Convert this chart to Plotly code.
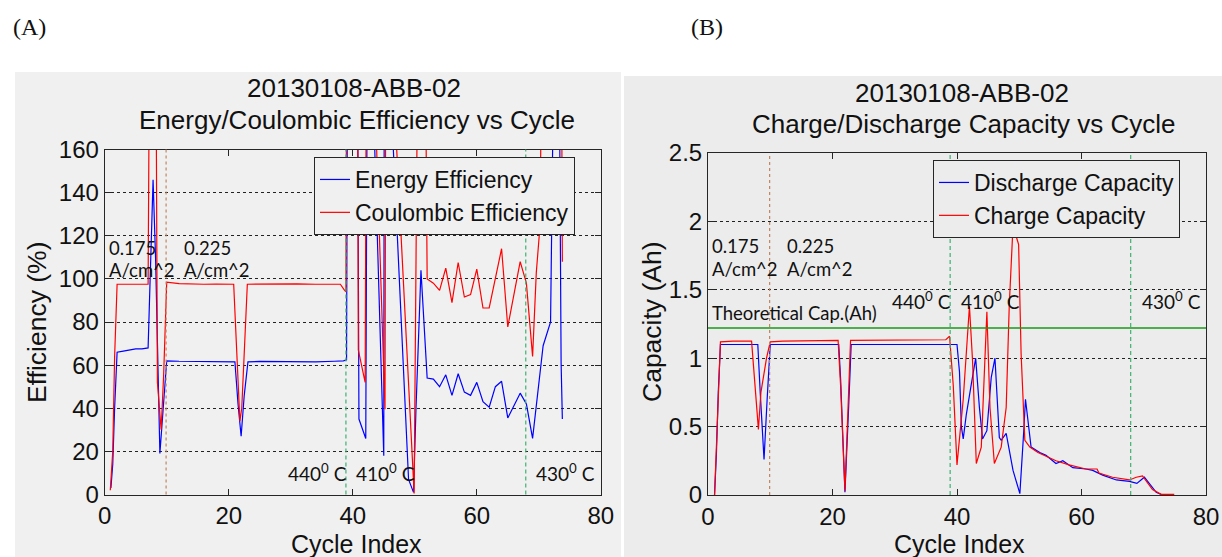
import plotly.graph_objects as go

W, H = 1222, 557

# ---------------- Panel A data (Efficiency, %) ----------------
ee_cycle = [1, 1.3, 1.6, 2, 3, 4, 5, 6, 7, 7.8, 8.2, 8.9, 9.4, 10, 12, 14, 16, 18, 20, 21,
            21.5, 22.0, 22.5, 23.1, 25, 28, 31, 34, 37, 38.5, 39, 39.2, 40.7, 41.0, 42.1, 42.4,
            43.5, 45.0, 45.1, 46.5, 49.0, 49.8, 50.2, 51, 52, 53, 54, 55, 56, 57, 58, 59, 60,
            61, 62, 63, 64, 65, 66, 67, 68, 69, 70.7, 71.9, 72.6, 73.2, 73.6, 73.8]
ee_value = [3, 14, 40, 66, 66.5, 67, 67.5, 67.5, 68, 146, 110, 19, 40, 62, 61.8, 61.8, 61.7, 61.7, 61.6, 61.5,
            42, 27, 46, 61.5, 61.7, 61.6, 61.6, 61.5, 61.8, 62, 62.5, 250, 250, 35, 26, 250,
            165, 18, 250, 165, 7, 1, 40, 104, 54, 53.5, 50, 55.5, 46, 56, 47.5, 46, 52,
            43, 40.5, 50, 52.5, 35.5, 41, 47, 42, 26, 69, 80, 250, 250, 61, 35]

ce_cycle = [0.9, 1.3, 1.6, 2, 3, 4, 5, 6, 7, 7.3, 8.2, 8.5, 9.1, 9.5, 10, 12, 14, 16, 18, 20, 20.8,
            21.8, 22.1, 23.0, 25, 28, 31, 34, 37, 38, 38.6, 38.9, 39.05, 40.75, 40.9, 42.0, 42.25,
            43.8, 45.2, 45.35, 47.0, 49.9, 50.6, 51.6, 52, 53, 54, 55, 56, 57, 58, 59, 60,
            61, 62, 63, 64, 65, 66, 67, 68, 69, 69.6, 70.2, 70.6, 73.6, 73.8]
ce_value = [2, 20, 64, 97.5, 97.5, 97.5, 97.6, 97.5, 97.5, 250, 250, 52, 30, 55, 98.5, 97.8, 97.6, 97.5, 97.6, 97.5, 97.5,
            34, 40, 97.5, 97.6, 97.5, 97.7, 97.5, 97.6, 97.5, 95, 94, 250, 250, 67, 52, 250,
            165, 39.5, 250, 165, 0.5, 250, 250, 100, 98, 94.7, 105, 89, 107.6, 91.6, 92.7, 104.5,
            86.5, 86.5, 100, 114, 77.7, 93, 108, 98, 64, 103, 124.6, 250, 250, 108]

# ---------------- Panel B data (Capacity, Ah) ----------------
dc_cycle = [1.05, 1.35, 1.65, 2, 4, 6, 8, 8.4, 9.0, 9.5, 10, 12, 14, 16, 18, 20, 21, 21.3, 22.0, 22.6, 23,
            25, 30, 35, 40.0, 40.4, 40.7, 41.0, 41.5, 42.3, 43.0, 43.6, 44.1, 44.8, 45.5, 46.1, 46.8,
            47.1, 47.9, 49.0, 50.1, 50.7, 51.0, 51.9, 53.3, 54.3, 55.9, 57.0, 58.6, 60.7, 61.8, 63.4,
            65.6, 67.7, 68.9, 70.1, 72.0, 73.0]
dc_value = [0, 0.3, 0.75, 1.10, 1.10, 1.10, 1.10, 0.74, 0.26, 0.7, 1.10, 1.10, 1.10, 1.10, 1.10, 1.10, 1.10, 0.85, 0.02, 0.65, 1.10,
            1.10, 1.10, 1.10, 1.10, 0.9, 0.5, 0.41, 0.59, 0.81, 1.0, 0.64, 0.41, 0.47, 0.86, 1.0, 0.42,
            0.40, 0.45, 0.18, 0.01, 0.45, 0.70, 0.35, 0.31, 0.29, 0.23, 0.25, 0.20, 0.19, 0.18, 0.145,
            0.11, 0.10, 0.085, 0.13, 0.02, 0.0]

cc_cycle = [1.05, 1.3, 1.6, 2, 4, 6, 7.0, 8.1, 8.5, 9.4, 10, 12, 14, 16, 18, 20, 20.9, 21.3, 22.0, 22.9,
            25, 28, 31, 34, 37, 38.2, 38.8, 39.4, 40.0, 41.0, 42.0, 42.5, 43.1, 43.9, 44.8, 45.3, 46.0,
            47.1, 47.9, 48.4, 49.0, 49.9, 50.3, 50.9, 51.7, 53.0, 55.9, 58.0, 60.7, 62.5, 62.8, 65.0,
            67.7, 68.8, 69.8, 71.4, 72.8, 74.9]
cc_value = [0, 0.3, 0.75, 1.12, 1.125, 1.125, 1.125, 0.48, 0.75, 1.0, 1.12, 1.125, 1.125, 1.13, 1.125, 1.13, 1.13, 0.8, 0.03, 1.13,
            1.13, 1.135, 1.13, 1.135, 1.13, 1.135, 1.16, 0.8, 0.22, 0.7, 1.38, 0.98, 0.23, 0.35, 1.34, 0.64, 0.23,
            0.35, 0.64, 1.39, 1.97, 1.83, 1.03, 0.40, 0.35, 0.31, 0.25, 0.22, 0.19, 0.19, 0.16, 0.13,
            0.11, 0.13, 0.14, 0.04, 0.005, 0.005]

theoretical_cap = 1.22
rate_change_cycle = 9.9
temp_change_cycles = [38.9, 67.9]

x_ticks = [0, 20, 40, 60, 80]
eff_ticks = [0, 20, 40, 60, 80, 100, 120, 140, 160]
cap_ticks = [0, 0.5, 1, 1.5, 2, 2.5]
cap_tick_text = ["0", "0.5", "1", "1.5", "2", "2.5"]

# ---------------- styling ----------------
SANS = "Liberation Sans, Arial, sans-serif"
ANNO = "Lato, Open Sans, sans-serif"
FRAME = "#262626"
BLUE = "#0000ff"
RED = "#ff0000"


def px(x):
    return x / W


def py(y):
    return 1 - y / H


fig = go.Figure()

fig.add_trace(go.Scatter(x=ee_cycle, y=ee_value, mode="lines", name="Energy Efficiency",
                         line=dict(color=BLUE, width=1.2), xaxis="x", yaxis="y", legend="legend"))
fig.add_trace(go.Scatter(x=ce_cycle, y=ce_value, mode="lines", name="Coulombic Efficiency",
                         line=dict(color=RED, width=1.2), xaxis="x", yaxis="y", legend="legend"))
fig.add_trace(go.Scatter(x=dc_cycle, y=dc_value, mode="lines", name="Discharge Capacity",
                         line=dict(color=BLUE, width=1.2), xaxis="x2", yaxis="y2", legend="legend2"))
fig.add_trace(go.Scatter(x=cc_cycle, y=cc_value, mode="lines", name="Charge Capacity",
                         line=dict(color=RED, width=1.2), xaxis="x2", yaxis="y2", legend="legend2"))

axis_common = dict(showline=True, linecolor=FRAME, linewidth=1, mirror="ticks", ticks="inside",
                   ticklen=6, tickcolor=FRAME, zeroline=False, automargin=False,
                   tickfont=dict(family=SANS, size=24, color="#111"))

xa1 = [px(104.7), px(600.8)]
ya1 = [py(494.5), py(149.5)]
xa2 = [px(708), px(1206)]
ya2 = [py(495), py(153)]

fig.update_layout(
    width=W, height=H, margin=dict(l=0, r=0, t=0, b=0, pad=0, autoexpand=False), autosize=False,
    paper_bgcolor="white", plot_bgcolor="rgba(0,0,0,0)",
    xaxis=dict(domain=xa1, range=[0, 80], tickvals=x_ticks, showgrid=False, anchor="y", **axis_common),
    yaxis=dict(domain=ya1, range=[0, 160], tickvals=eff_ticks, showgrid=True, gridcolor="#222",
               griddash="3px,3px", gridwidth=1, anchor="x", **axis_common),
    xaxis2=dict(domain=xa2, range=[0, 80], tickvals=x_ticks, showgrid=False, anchor="y2", **axis_common),
    yaxis2=dict(domain=ya2, range=[0, 2.5], tickvals=cap_ticks, ticktext=cap_tick_text, showgrid=True,
                gridcolor="#222", griddash="3px,3px", gridwidth=1, anchor="x2", **axis_common),
    legend=dict(x=px(314), y=py(157), xanchor="left", yanchor="top", bgcolor="#f0f0f0",
                bordercolor=FRAME, borderwidth=1, font=dict(family=SANS, size=23, color="#111"),
                tracegroupgap=0),
    legend2=dict(x=px(933), y=py(160), xanchor="left", yanchor="top", bgcolor="#ececec",
                 bordercolor=FRAME, borderwidth=1, font=dict(family=SANS, size=23, color="#111"),
                 tracegroupgap=0),
    showlegend=True,
)

shapes = [
    dict(type="rect", xref="paper", yref="paper", x0=px(15), x1=px(621), y0=0, y1=py(72),
         fillcolor="#f0f0f0", line=dict(width=0), layer="below"),
    dict(type="rect", xref="paper", yref="paper", x0=px(624), x1=1, y0=0, y1=py(76),
         fillcolor="#ececec", line=dict(width=0), layer="below"),
]
for xr, yr in (("x", "y domain"), ("x2", "y2 domain")):
    shapes.append(dict(type="line", xref=xr, yref=yr, x0=rate_change_cycle, x1=rate_change_cycle,
                       y0=0, y1=1, line=dict(color="#c08660", width=1.2, dash="3px,3px"), layer="above"))
    for c in temp_change_cycles:
        shapes.append(dict(type="line", xref=xr, yref=yr, x0=c, x1=c, y0=0, y1=1,
                           line=dict(color="#3cb371", width=1.2, dash="4px,3px"), layer="above"))
shapes.append(dict(type="line", xref="x2 domain", yref="y2", x0=0, x1=1, y0=theoretical_cap, y1=theoretical_cap,
                   line=dict(color="#1a9a1a", width=1.5), layer="above"))
fig.update_layout(shapes=shapes)

ann = []


def paper_text(text, x, y, size, family=SANS, xanchor="center", angle=0):
    ann.append(dict(text=text, x=px(x), y=py(y), xref="paper", yref="paper", showarrow=False,
                    xanchor=xanchor, yanchor="middle", textangle=angle,
                    font=dict(family=family, size=size, color="#111")))


def data_text(text, x, y, xr, yr, size):
    ann.append(dict(text=text, x=x, y=y, xref=xr, yref=yr, showarrow=False, xanchor="left",
                    yanchor="middle", font=dict(family=ANNO, size=size, color="#111")))


paper_text("(A)", 11, 27, 24, "Liberation Serif, Times New Roman, serif", "left")
paper_text("(B)", 689, 27, 24, "Liberation Serif, Times New Roman, serif", "left")

paper_text("20130108-ABB-02", 354, 88, 26)
paper_text("Energy/Coulombic Efficiency vs Cycle", 357, 120, 26)
paper_text("20130108-ABB-02", 962, 93, 26)
paper_text("Charge/Discharge Capacity vs Cycle", 963, 124, 26)

paper_text("Cycle Index", 356, 544, 25)
paper_text("Cycle Index", 960, 544, 25)
paper_text("Efficiency (%)", 37, 322, 26.5, angle=-90)
paper_text("Capacity (Ah)", 652, 322, 26.5, angle=-90)

# Panel A labels
data_text("0.175", 0.3, 114.5, "x", "y", 18.5)
data_text("A/cm^2", 0.3, 104, "x", "y", 18.5)
data_text("0.225", 12.4, 114.5, "x", "y", 18.5)
data_text("A/cm^2", 12.4, 104, "x", "y", 18.5)
data_text("440<sup>0</sup> C", 29.3, 10, "x", "y", 19)
data_text("410<sup>0</sup> C", 40.2, 10, "x", "y", 19)
data_text("430<sup>0</sup> C", 69.2, 10, "x", "y", 19)

# Panel B labels
data_text("0.175", 0.3, 1.82, "x2", "y2", 18.5)
data_text("A/cm^2", 0.3, 1.65, "x2", "y2", 18.5)
data_text("0.225", 12.4, 1.82, "x2", "y2", 18.5)
data_text("A/cm^2", 12.4, 1.65, "x2", "y2", 18.5)
data_text("Theoretical Cap.(Ah)", 0.3, 1.33, "x2", "y2", 18.5)
data_text("440<sup>0</sup> C", 29.2, 1.425, "x2", "y2", 19)
data_text("410<sup>0</sup> C", 40.3, 1.425, "x2", "y2", 19)
data_text("430<sup>0</sup> C", 69.4, 1.425, "x2", "y2", 19)

fig.update_layout(annotations=ann)

fig.write_html("out.html")
